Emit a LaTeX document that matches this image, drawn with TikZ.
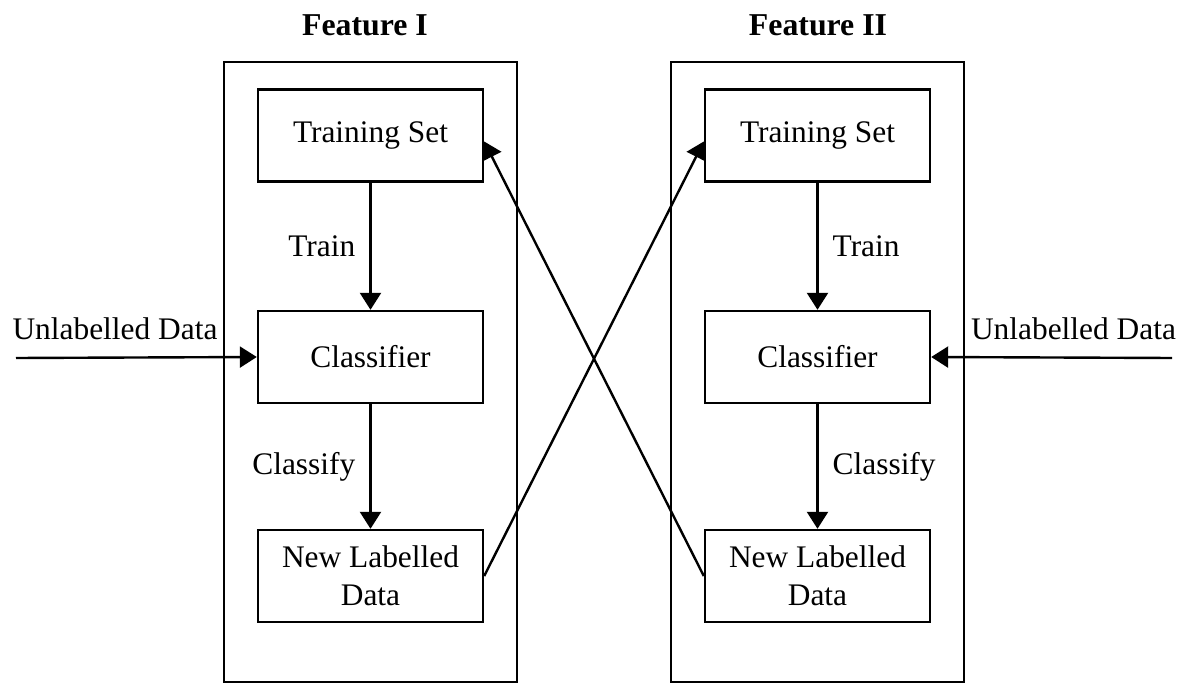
\documentclass[tikz,border=0pt]{standalone}
\usepackage{fontspec}
\setmainfont{Liberation Serif}
\usepackage{tikz}
\usetikzlibrary{arrows.meta}
\usetikzlibrary{positioning}

\begin{document}
\begin{tikzpicture}
	[x=0.5pt, y=-0.5pt, line width=1.2pt,
	every node/.style={font=\fontsize{15.7}{19}\selectfont},
	featbox/.style={draw, minimum width=146.5pt, minimum height=310pt},
	stepbox/.style={draw, minimum width=112.5pt, minimum height=46pt, align=center},
	title/.style={font=\fontsize{15.9}{19}\selectfont\bfseries},
	lbl/.style={inner sep=7pt},
	arr/.style={-{Triangle[length=8.5pt, width=10.5pt]}}]
	\useasboundingbox (0, 0) rectangle (1190, 684);
	% feature I
	\node (t1) [title] at (365, 25) {Feature I};
	\node (f1) [featbox] at (370.5, 372) {};
	\node (ts1) [stepbox] at (370.5, 135.5) {Training Set};
	\node (cl1) [stepbox] at (370.5, 357) {Classifier};
	\node (nl1) [stepbox] at (370.5, 576) {New Labelled\\Data};
	% feature II
	\node (t2) [title] at (818, 25) {Feature II};
	\node (f2) [featbox] at (817.5, 372) {};
	\node (ts2) [stepbox] at (817.5, 135.5) {Training Set};
	\node (cl2) [stepbox] at (817.5, 357) {Classifier};
	\node (nl2) [stepbox] at (817.5, 576) {New Labelled\\Data};
	% unlabelled data
	\node (u1) at (115, 329) {Unlabelled Data};
	\node (u2) at (1073.5, 329) {Unlabelled Data};
	\coordinate (s1) at (16, 358);
	\coordinate (s2) at (1172, 358);
	\draw [arr] (s1) to (cl1.west);
	\draw [arr] (s2) to (cl2.east);
	% train and classify
	\draw [arr] (ts1) to node [lbl, left] {Train} (cl1);
	\draw [arr] (cl1) to node [lbl, left] {Classify} (nl1);
	\draw [arr] (ts2) to node [lbl, right] {Train} (cl2);
	\draw [arr] (cl2) to node [lbl, right] {Classify} (nl2);
	% exchange
	\draw [arr] (nl1.east) to ([yshift=-3pt]ts2.west);
	\draw [arr] (nl2.west) to ([yshift=-3pt]ts1.east);
\end{tikzpicture}
\end{document}
